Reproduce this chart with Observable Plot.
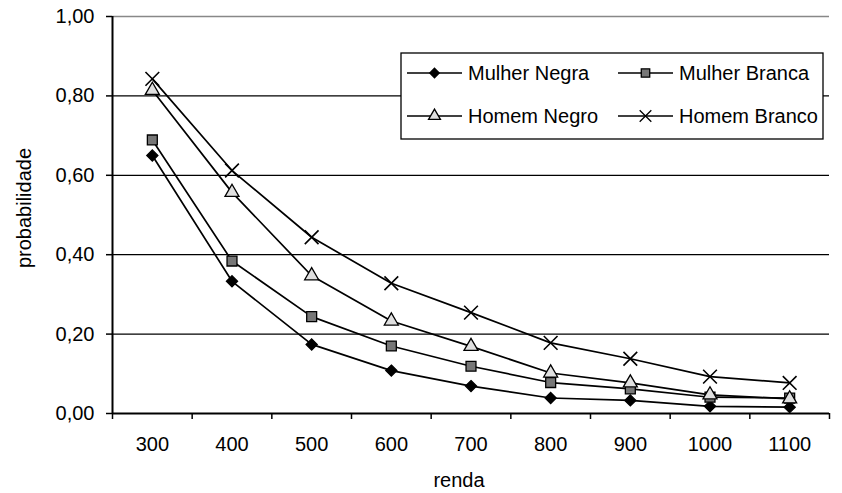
<!DOCTYPE html>
<html>
<head>
<meta charset="utf-8">
<script src="https://cdn.jsdelivr.net/npm/d3@7"></script>
<script src="https://cdn.jsdelivr.net/npm/@observablehq/plot@0.6"></script>
<style>
  html, body { margin: 0; padding: 0; background: #fff; }
</style>
</head>
<body>
<div id="chart"></div>
<script>
const rendas = [300, 400, 500, 600, 700, 800, 900, 1000, 1100];
const yTicks = [0, 0.2, 0.4, 0.6, 0.8, 1.0];
const mulherNegra  = [0.650, 0.333, 0.174, 0.108, 0.069, 0.039, 0.033, 0.018, 0.016];
const mulherBranca = [0.689, 0.384, 0.244, 0.170, 0.119, 0.078, 0.062, 0.041, 0.039];
const homemNegro   = [0.814, 0.557, 0.347, 0.233, 0.169, 0.102, 0.077, 0.047, 0.037];
const homemBranco  = [0.843, 0.612, 0.444, 0.328, 0.254, 0.178, 0.138, 0.093, 0.077];
const seriesNames = ["Mulher Negra", "Mulher Branca", "Homem Negro", "Homem Branco"];
const seriesValues = [mulherNegra, mulherBranca, homemNegro, homemBranco];

const symbols = {"Mulher Negra": "diamond2", "Mulher Branca": "square", "Homem Negro": "triangle", "Homem Branco": "times"};
const fills = {"Mulher Negra": "#000", "Mulher Branca": "#777", "Homem Negro": "#e0e0e0", "Homem Branco": "none"};
const radii = {"Mulher Negra": 5.0, "Mulher Branca": 5.6, "Homem Negro": 5.2, "Homem Branco": 6.3};

const data = seriesNames.flatMap((name, k) =>
  rendas.map((r, i) => ({renda: r, p: seriesValues[k][i], serie: name})));

const bandStep = 100;
const boundaries = d3.range(rendas[0] - bandStep / 2, rendas[rendas.length - 1] + bandStep, bandStep);
const fmt = d => d.toFixed(2).replace(".", ",");
const FONT = "'Liberation Sans', Arial, sans-serif";

const plot = Plot.plot({
  width: 842,
  height: 493,
  marginLeft: 112,
  marginRight: 13,
  marginTop: 16,
  marginBottom: 80,
  x: {domain: [boundaries[0], boundaries[boundaries.length - 1]]},
  y: {domain: [0, 1]},
  style: {fontFamily: FONT, fontSize: "20px", color: "#000", background: "#fff"},
  marks: [
    Plot.ruleY([0.2, 0.4, 0.6, 0.8], {stroke: "#000", strokeWidth: 1.3}),
    Plot.ruleY([1], {stroke: "#888", strokeWidth: 1.5}),
    Plot.axisY({ticks: yTicks, tickFormat: fmt, tickSize: 6, tickPadding: 12, label: null, strokeWidth: 1.5}),
    Plot.axisX({ticks: boundaries, tickFormat: () => "", tickSize: 6, label: null, strokeWidth: 1.5}),
    Plot.axisX({ticks: rendas, tickFormat: d => String(d), tickSize: 0, tickPadding: 23, label: null}),
    Plot.ruleX([boundaries[0]], {stroke: "#000", strokeWidth: 2}),
    Plot.ruleY([0], {stroke: "#000", strokeWidth: 2}),
    Plot.line(data, {x: "renda", y: "p", z: "serie", stroke: "#000", strokeWidth: 1.7}),
    ...seriesNames.map(name => Plot.dot(data.filter(d => d.serie === name), {
      x: "renda", y: "p",
      symbol: () => symbols[name],
      r: radii[name],
      fill: fills[name],
      stroke: "#000",
      strokeWidth: name === "Homem Branco" ? 1.6 : 1.3
    }))
  ]
});

document.getElementById("chart").appendChild(plot);

const svg = d3.select(plot);
svg.append("text")
  .attr("transform", "translate(31,208) rotate(-90)")
  .attr("text-anchor", "middle")
  .attr("font-size", 20)
  .attr("fill", "#000")
  .text("probabilidade");
svg.append("text")
  .attr("x", 459)
  .attr("y", 487)
  .attr("text-anchor", "middle")
  .attr("font-size", 20)
  .attr("fill", "#000")
  .text("renda");

// Legend
const lg = svg.append("g");
lg.append("rect").attr("x", 401).attr("y", 53).attr("width", 422).attr("height", 86)
  .attr("fill", "#fff").attr("stroke", "#000").attr("stroke-width", 1.3);
const d3sym = {"diamond2": d3.symbolDiamond2, "square": d3.symbolSquare, "triangle": d3.symbolTriangle, "times": d3.symbolTimes};
const pos = [[407, 73], [618, 73], [407, 116], [618, 116]];
seriesNames.forEach((name, k) => {
  const [x0, y0] = pos[k];
  lg.append("line").attr("x1", x0).attr("x2", x0 + 55).attr("y1", y0).attr("y2", y0)
    .attr("stroke", "#000").attr("stroke-width", 1.5);
  const r = radii[name] * 0.85;
  lg.append("path")
    .attr("transform", `translate(${x0 + 27.5},${y0})`)
    .attr("d", d3.symbol(d3sym[symbols[name]], Math.PI * r * r)())
    .attr("fill", fills[name]).attr("stroke", "#000").attr("stroke-width", 1.3);
  lg.append("text").attr("x", x0 + 61).attr("y", y0).attr("dy", "0.35em")
    .attr("text-anchor", "start")
    .attr("font-size", 20).attr("fill", "#000").text(name);
});
</script>
</body>
</html>
